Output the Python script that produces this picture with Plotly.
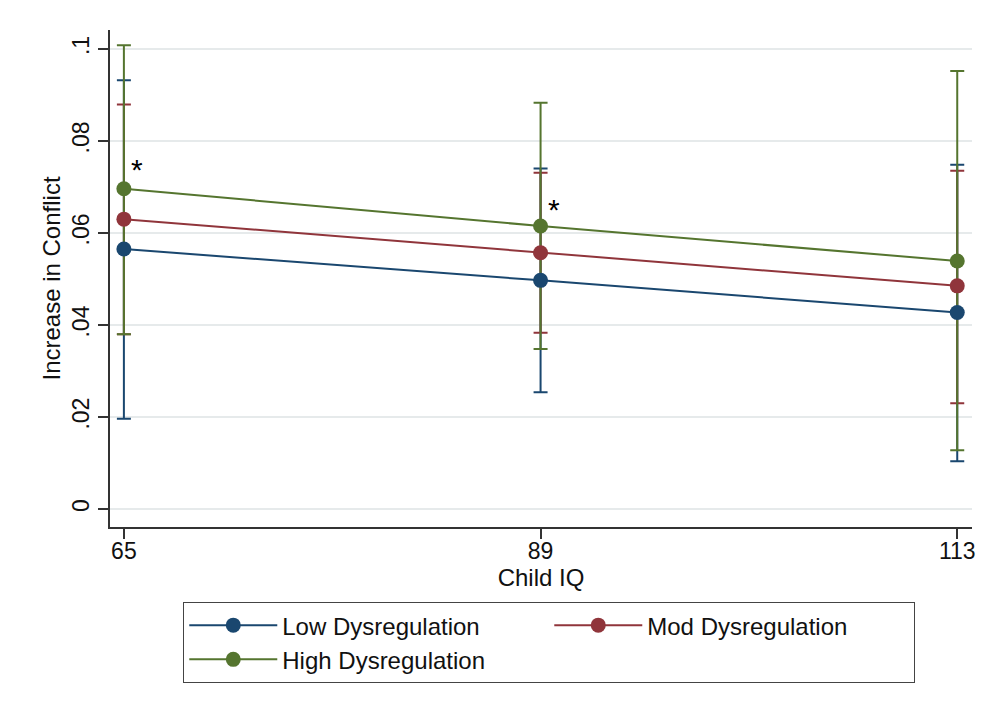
import plotly.graph_objects as go

child_iq = [65, 89, 113]
series_names = ["Low Dysregulation", "Mod Dysregulation", "High Dysregulation"]

low_mean = [0.0565, 0.0497, 0.0427]
low_lower = [0.0196, 0.0254, 0.0104]
low_upper = [0.0932, 0.0740, 0.0748]

mod_mean = [0.0630, 0.0557, 0.0485]
mod_lower = [0.0380, 0.0383, 0.0230]
mod_upper = [0.0879, 0.0731, 0.0735]

high_mean = [0.0696, 0.0615, 0.0539]
high_lower = [0.0380, 0.0348, 0.0128]
high_upper = [0.1008, 0.0883, 0.0952]

y_tick_vals = [0, 0.02, 0.04, 0.06, 0.08, 0.1]
y_tick_text = ["0", ".02", ".04", ".06", ".08", ".1"]

sig_x = [65, 89]
sig_y = [0.0737, 0.0650]

colors = ["#1a476f", "#90353b", "#55752f"]
means = [low_mean, mod_mean, high_mean]
lowers = [low_lower, mod_lower, high_lower]
uppers = [low_upper, mod_upper, high_upper]

FONT = "Liberation Sans, Arial, sans-serif"

fig = go.Figure()

# confidence-interval caps drawn first (under the lines)
for name, c, m, lo, hi in zip(series_names, colors, means, lowers, uppers):
    fig.add_trace(go.Scatter(
        x=child_iq, y=m, mode="markers",
        marker=dict(size=1, opacity=0, color=c),
        error_y=dict(type="data", symmetric=False,
                     array=[h - v for h, v in zip(hi, m)],
                     arrayminus=[v - l for v, l in zip(m, lo)],
                     color=c, thickness=2, width=7),
        showlegend=False, hoverinfo="skip",
    ))

for name, c, m in zip(series_names, colors, means):
    fig.add_trace(go.Scatter(
        x=child_iq, y=m, mode="lines+markers", name=name,
        line=dict(color=c, width=2),
        marker=dict(color=c, size=15),
    ))

for sx, sy in zip(sig_x, sig_y):
    fig.add_annotation(x=sx, y=sy, text="*", showarrow=False,
                       xshift=13, font=dict(size=30, color="black", family=FONT))

fig.update_layout(
    width=1002, height=719,
    margin=dict(l=102, r=38, t=22, b=200),
    paper_bgcolor="white", plot_bgcolor="white",
    font=dict(family=FONT, size=24, color="#111111"),
    xaxis=dict(
        range=[64.2, 113.85], tickvals=child_iq,
        showgrid=False, zeroline=False,
        showline=True, linecolor="#333333", linewidth=2,
        ticks="outside", ticklen=10, tickwidth=1.5, tickcolor="#333333",
        ticklabelstandoff=-8,
        title=dict(text="Child IQ", standoff=4, font=dict(size=24)),
        tickfont=dict(size=23),
    ),
    yaxis=dict(
        range=[-0.0039, 0.1041], tickvals=y_tick_vals, ticktext=y_tick_text,
        tickangle=-90,
        showgrid=True, gridcolor="#e6eaeb", gridwidth=1.5, zeroline=False,
        showline=True, linecolor="#333333", linewidth=2,
        ticks="outside", ticklen=10, tickwidth=1.5, tickcolor="#333333",
        title=dict(text="Increase in Conflict", standoff=0, font=dict(size=24)),
        tickfont=dict(size=23),
    ),
    legend=dict(
        orientation="h", x=0.085, xanchor="left", y=-0.151, yanchor="top",
        entrywidth=262, entrywidthmode="pixels", itemwidth=88,
        bordercolor="#444444", borderwidth=1, bgcolor="white",
        font=dict(size=24), tracegroupgap=0,
    ),
)

fig.write_html("out.html")
